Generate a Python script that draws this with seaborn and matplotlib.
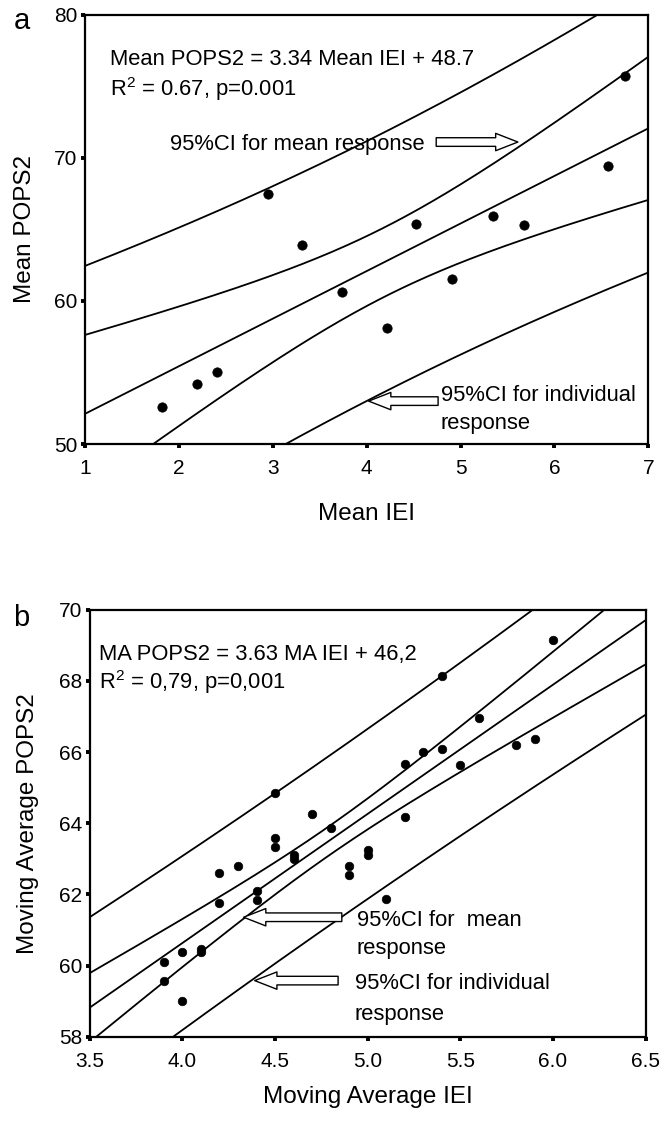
import numpy as np
import pandas as pd
import matplotlib
matplotlib.use("Agg")
import matplotlib.pyplot as plt
import seaborn as sns

# panel a: mean values per subject
mean_iei = [1.82, 2.19, 2.41, 2.95, 3.31, 3.74, 4.22, 4.52, 4.91, 5.34, 5.67, 6.57, 6.75]
mean_pops2 = [52.6, 54.2, 55.0, 67.5, 63.9, 60.6, 58.1, 65.4, 61.5, 65.9, 65.3, 69.4, 75.7]

# panel b: moving averages
ma_iei = [3.9, 3.9, 4.0, 4.0, 4.1, 4.1, 4.2, 4.2, 4.3, 4.4, 4.4, 4.5, 4.5, 4.5, 4.6, 4.6, 4.7,
          4.8, 4.9, 4.9, 5.0, 5.0, 5.1, 5.2, 5.2, 5.3, 5.4, 5.4, 5.5, 5.6, 5.8, 5.9, 6.0]
ma_pops2 = [60.09, 59.56, 60.37, 59.0, 60.48, 60.37, 62.59, 61.77, 62.79, 62.1, 61.85, 64.86, 63.6,
            63.33, 63.0, 63.1, 64.26, 63.87, 62.79, 62.56, 63.25, 63.12, 61.87, 65.67, 64.17, 66.0,
            68.15, 66.08, 65.65, 66.97, 66.2, 66.36, 69.16]

# two-sided 95% t quantiles for n-2 degrees of freedom
T_A = 2.201
T_B = 2.040


def fit_bands(x, y, t_crit, lo, hi):
    x = np.asarray(x, float)
    y = np.asarray(y, float)
    slope, icpt = np.polyfit(x, y, 1)
    n = len(x)
    s = np.sqrt(np.sum((y - (icpt + slope * x)) ** 2) / (n - 2))
    sxx = np.sum((x - x.mean()) ** 2)
    xg = np.linspace(lo, hi, 200)
    yhat = icpt + slope * xg
    se_m = s * np.sqrt(1 / n + (xg - x.mean()) ** 2 / sxx)
    se_i = s * np.sqrt(1 + 1 / n + (xg - x.mean()) ** 2 / sxx)
    curves = {"fit": yhat,
              "mean_hi": yhat + t_crit * se_m, "mean_lo": yhat - t_crit * se_m,
              "ind_hi": yhat + t_crit * se_i, "ind_lo": yhat - t_crit * se_i}
    rows = [pd.DataFrame({"x": xg, "y": v, "curve": k}) for k, v in curves.items()]
    return pd.concat(rows, ignore_index=True)


sns.set_style("ticks")
plt.rcParams['font.family'] = ['Liberation Sans', 'DejaVu Sans']
plt.rcParams['mathtext.fontset'] = 'custom'
plt.rcParams['mathtext.rm'] = 'Liberation Sans'
plt.rcParams['mathtext.it'] = 'Liberation Sans:italic'
plt.rcParams['text.color'] = 'black'
plt.rcParams['axes.labelcolor'] = 'black'

FS = 15.8   # annotation text
LS = 17.5   # axis labels

fig = plt.figure(figsize=(6.65, 11.27), dpi=100)
ax1 = fig.add_axes([0.128, 0.606, 0.847, 0.381])
ax2 = fig.add_axes([0.135, 0.080, 0.836, 0.379])

arrow = dict(arrowstyle="simple,head_length=1.6,head_width=1.25,tail_width=0.62",
             fc="white", ec="black", lw=1.0, shrinkA=0, shrinkB=0, mutation_scale=10)

# ---- panel a
bands_a = fit_bands(mean_iei, mean_pops2, T_A, 1, 7)
sns.lineplot(data=bands_a, x="x", y="y", units="curve", estimator=None,
             color="black", lw=1.3, ax=ax1)
sns.scatterplot(x=mean_iei, y=mean_pops2, color="black", s=45, edgecolor="black", ax=ax1, zorder=3)
ax1.set_xlim(1, 7)
ax1.set_ylim(50, 80)
ax1.set_xticks(range(1, 8))
ax1.set_yticks([50, 60, 70, 80])
ax1.set_xlabel("Mean IEI", fontsize=LS, labelpad=18)
ax1.set_ylabel("Mean POPS2", fontsize=LS, labelpad=13)
ax1.text(1.27, 76.9, "Mean POPS2 = 3.34 Mean IEI + 48.7", fontsize=FS, va="center")
ax1.text(1.27, 74.8, r"R$^2$ = 0.67, p=0.001", fontsize=FS, va="center")
ax1.text(1.9, 70.9, "95%CI for mean response", fontsize=FS, va="center")
ax1.annotate("", xy=(5.61, 71.1), xytext=(4.74, 71.1), arrowprops=arrow)
ax1.annotate("", xy=(4.02, 53.0), xytext=(4.76, 53.0), arrowprops=arrow)
ax1.text(4.79, 53.41, "95%CI for individual", fontsize=FS, va="center")
ax1.text(4.79, 51.45, "response", fontsize=FS, va="center")
ax1.text(-0.127, 0.985, "a", transform=ax1.transAxes, fontsize=21, va="center")

# ---- panel b
bands_b = fit_bands(ma_iei, ma_pops2, T_B, 3.5, 6.5)
sns.lineplot(data=bands_b, x="x", y="y", units="curve", estimator=None,
             color="black", lw=1.3, ax=ax2)
sns.scatterplot(x=ma_iei, y=ma_pops2, color="black", s=38, edgecolor="black", ax=ax2, zorder=3)
ax2.set_xlim(3.5, 6.5)
ax2.set_ylim(58, 70)
ax2.set_xticks(np.arange(3.5, 6.6, 0.5))
ax2.set_xticklabels(["3.5", "4.0", "4.5", "5.0", "5.5", "6.0", "6.5"])
ax2.set_yticks(range(58, 71, 2))
ax2.set_xlabel("Moving Average IEI", fontsize=LS, labelpad=11)
ax2.set_ylabel("Moving Average POPS2", fontsize=LS, labelpad=14)
ax2.text(3.55, 68.73, "MA POPS2 = 3.63 MA IEI + 46,2", fontsize=FS, va="center")
ax2.text(3.55, 67.96, r"R$^2$ = 0,79, p=0,001", fontsize=FS, va="center")
ax2.annotate("", xy=(4.33, 61.36), xytext=(4.86, 61.36), arrowprops=arrow)
ax2.text(4.94, 61.27, "95%CI for  mean", fontsize=FS, va="center")
ax2.text(4.94, 60.48, "response", fontsize=FS, va="center")
ax2.annotate("", xy=(4.39, 59.58), xytext=(4.84, 59.58), arrowprops=arrow)
ax2.text(4.93, 59.5, "95%CI for individual", fontsize=FS, va="center")
ax2.text(4.93, 58.64, "response", fontsize=FS, va="center")
ax2.text(-0.138, 0.98, "b", transform=ax2.transAxes, fontsize=21, va="center")

for ax in (ax1, ax2):
    for sp in ax.spines.values():
        sp.set_linewidth(1.6)
        sp.set_color("black")
    ax.tick_params(direction="out", length=3, width=2.8, labelsize=15, colors="black")
    ax.tick_params(axis="x", pad=8)
    ax.tick_params(axis="y", pad=2.5)

fig.savefig("out.png", dpi=100, facecolor="white")
